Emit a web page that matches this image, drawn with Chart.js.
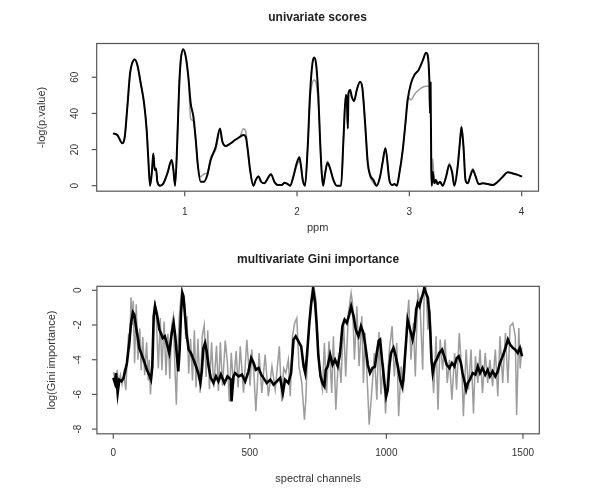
<!DOCTYPE html>
<html>
<head>
<meta charset="utf-8">
<script src="https://cdn.jsdelivr.net/npm/chart.js@4.4.0/dist/chart.umd.min.js"></script>
<style>
  body { margin: 0; background: #fff; }
  canvas { display: block; }
</style>
</head>
<body>
<canvas id="uni" width="600" height="246"></canvas>
<canvas id="gini" width="600" height="258"></canvas>
<script>
// ---- univariate scores (ppm vs -log(p.value)) ----
const topPpm = [0.362,0.40,0.444,0.466,0.489,0.513,0.531,0.555,0.578,0.608,0.638,0.661,0.676,0.691,0.709,0.72,0.733,0.744,0.756,0.78,
  0.81,0.845,0.884,0.899,0.914,0.934,0.949,0.964,0.985,1.009,1.032,1.053,1.077,1.098,1.118,1.142,1.172,1.201,1.231,1.276,
  1.314,1.335,1.365,1.41,1.448,1.492,1.522,1.543,1.561,1.582,1.611,1.632,1.656,1.68,1.709,1.73,1.768,1.798,1.828,1.864,
  1.887,1.917,1.938,1.967,1.997,2.021,2.036,2.051,2.071,2.095,2.116,2.137,2.152,2.169,2.19,2.205,2.22,2.232,2.25,2.271,
  2.294,2.324,2.354,2.392,2.413,2.434,2.443,2.452,2.458,2.473,2.487,2.508,2.532,2.561,2.582,2.606,2.63,2.65,2.68,2.709,
  2.739,2.762,2.787,2.822,2.846,2.867,2.888,2.911,2.941,2.965,2.985,3.015,3.045,3.083,3.119,3.149,3.163,3.178,3.184,3.189,
  3.195,3.2,3.208,3.223,3.237,3.252,3.273,3.297,3.327,3.356,3.38,3.401,3.43,3.452,3.464,3.482,3.5,3.52,3.541,3.565,
  3.589,3.618,3.654,3.698,3.743,3.787,3.832,3.876,3.921,3.966,4.004];
const topBlack = [29.0,28.1,23.5,27.1,43.7,62.2,67.7,69.9,66.8,56.7,45.6,30.8,14.2,0,8.7,17.9,8.7,9.6,2.2,0,
  1.3,6.8,14.2,8.7,0,25.3,53,69.1,75.5,71.4,60.3,45.6,38.2,25.3,10.5,2.2,2.2,5.9,14.2,21.6,
  31.7,24.4,22,23.5,25.3,27.1,28.1,27.1,19.8,8.7,0,3.1,5.3,2.2,1.3,3.1,6.4,2.2,0.4,0.4,
  1.7,0.9,0,5,12.4,15.7,10.5,3.1,0,21.6,51.1,67.7,70.9,67.7,49.3,25.3,6.8,0,6.8,12.7,
  9.6,3.1,0,0,25.3,50.2,48.4,31.7,51.1,53,49.3,46.9,53,57.6,53.9,34.5,12.4,6,3.1,0,
  5,13,20.8,3.1,0.4,0.9,0,6.8,19.7,34.5,47.4,56.7,61.3,64.1,69.2,73.6,72.3,58.5,40,57,
  10.5,0,7.7,1.3,3.1,0.9,2.2,0,5,11.5,7.7,0,10.5,25.3,32.4,21.6,3.1,1.3,5,8.7,
  5.3,0.9,1.3,0.9,0.4,2.2,5,7.4,6.8,6,5];
const topGray = [29.0,28.1,23.5,27.1,43.7,62.2,67.7,69.9,66.8,56.7,45.6,30.8,14.2,0,8.7,17.9,8.7,9.6,2.2,0,
  1.3,6.8,14.2,8.7,0,25.3,53,69.1,75.5,71.4,60.3,37,36,25.3,10.5,5,6.5,7.2,15.5,20,
  30.5,24.4,22,23.5,25.3,27.1,31.5,30,19.8,8.7,0,3.1,5.3,2.2,1.3,3.1,6.4,2.2,0.4,0.4,
  1.7,0.9,0,5,11,14,10.5,3.1,0,21.6,48,57,58.5,57,45,25.3,6.8,0,6.8,13.5,
  9.6,3.1,0,0,25.3,50.2,48.4,31.7,51.1,53,49.3,46.9,53,57.6,53.9,34.5,12.4,5,1.5,0,
  5,13,20.8,3.1,0.4,0.9,0,6.8,19.7,34.5,49,47.5,50.5,53,54.5,55,55,55,40,40,
  10.5,0,15,1.3,3.1,0.9,2.2,0,5,12.5,7.7,0,10.5,25.3,33,21.6,3.1,1.3,5,9.5,
  5.3,0.9,1.3,0.9,0.4,2.2,5,7.4,6.8,6,5];
const topXTicks = [1, 2, 3, 4];
const topYTicks = [0, 20, 40, 60];

// ---- multivariate Gini importance (channel vs log importance) ----
const botChan = [0,6,10,16,22,30,38,43,50,59,65,72,77,83,89,95,104,113,123,131,
  138,143,148,153,160,169,174,181,189,197,205,214,221,227,233,238,243,248,253,257,
  262,268,276,284,294,303,311,319,324,330,336,342,349,357,367,376,385,394,407,418,
  431,433,440,446,459,471,483,495,505,514,522,532,542,554,562,575,587,599,611,621,
  629,641,651,660,668,678,688,697,703,709,718,725,732,739,745,751,759,766,773,778,
  785,794,803,812,822,830,839,847,855,864,871,880,888,898,907,916,925,932,940,949,
  958,965,972,977,984,993,999,1005,1011,1017,1026,1033,1042,1050,1058,1062,1070,1078,1084,1090,
  1096,1103,1109,1115,1121,1127,1133,1139,1145,1152,1157,1161,1165,1170,1177,1184,1194,1204,1212,1221,
  1231,1240,1249,1258,1265,1273,1279,1286,1292,1298,1306,1316,1326,1335,1343,1352,1362,1371,1379,1389,
  1399,1408,1416,1426,1436,1445,1453,1463,1472,1481,1489,1497];
const botBlack = [-5.05,-5.34,-4.77,-5.92,-5.15,-5.25,-5.05,-4.67,-4.19,-2.94,-1.88,-1.27,-1.4,-2.07,-2.65,-3.32,-3.71,-4.1,-4.58,-4.86,
  -5.15,-4.38,-1.5,-0.92,-1.4,-2.27,-2.46,-2.75,-2.65,-3.13,-3.61,-2.46,-1.88,-2.65,-3.8,-4.67,-3.42,-1.31,-0.16,-0.35,
  -1.31,-2.46,-3.42,-3.61,-4.0,-4.38,-4.77,-5.34,-4.67,-3.32,-3.04,-3.52,-4.38,-5.05,-5.34,-4.96,-5.25,-4.86,-5.34,-4.96,
  -5.15,-6.4,-4.96,-4.77,-4.96,-4.86,-5.25,-4.67,-3.9,-4.19,-4.58,-4.48,-4.86,-5.15,-5.34,-5.15,-5.44,-5.25,-5.05,-5.92,
  -5.15,-5.34,-4.77,-2.84,-2.65,-2.94,-3.23,-4.38,-4.77,-3.8,-1.88,-0.73,0.04,-0.73,-2.07,-3.8,-4.96,-5.34,-5.53,-4.58,
  -4.38,-3.71,-4.29,-4.0,-4.38,-3.71,-2.07,-1.69,-1.88,-1.4,-0.92,-1.5,-2.27,-2.65,-2.07,-2.46,-3.42,-4.29,-4.77,-4.48,
  -4.4,-3.6,-2.9,-2.84,-4.0,-5.34,-6.11,-5.73,-4.38,-3.61,-3.32,-3.71,-4.38,-5.15,-5.53,-5.15,-3.42,-1.69,-2.07,-2.46,
  -2.84,-2.27,-1.12,-0.73,-0.92,-0.54,-0.25,0.13,-0.16,-0.44,-1.31,-2.46,-4.0,-4.77,-4.19,-4.0,-3.61,-3.42,-3.8,-4.29,
  -4.48,-4.19,-4.38,-3.9,-3.8,-4.19,-4.77,-5.25,-5.73,-5.34,-5.15,-4.77,-4.86,-4.38,-4.77,-4.48,-4.86,-4.58,-4.96,-4.67,
  -4.96,-4.67,-4.19,-3.8,-3.32,-2.84,-3.13,-3.32,-3.42,-3.61,-3.32,-3.8];
const grayChan = [2,8,14,20,26,32,38,46,52,56,60,65,70,73,78,84,90,97,102,108,
  115,122,128,132,136,142,148,153,158,165,172,178,186,193,200,207,214,220,225,231,
  236,242,247,251,256,261,265,270,276,283,290,297,303,310,318,326,333,340,346,352,
  360,368,378,385,392,400,410,418,425,432,440,450,457,465,477,489,501,507,515,522,
  534,544,556,568,581,593,608,617,624,632,641,648,656,664,672,680,690,700,705,712,
  721,729,734,742,749,756,766,773,781,790,800,806,815,825,834,843,851,861,871,876,
  883,892,900,910,916,922,932,937,947,956,965,973,980,989,997,1004,1011,1021,1029,1038,
  1045,1054,1060,1066,1074,1082,1090,1099,1106,1115,1123,1133,1139,1145,1152,1160,1167,1173,1182,1189,
  1197,1206,1215,1223,1231,1240,1250,1257,1267,1277,1282,1292,1301,1310,1319,1326,1335,1343,1352,1362,
  1371,1379,1389,1399,1408,1416,1426,1436,1445,1453,1463,1472,1477,1485,1490,1496];
const grayVals = [-4.7,-5.6,-4.6,-5.5,-4.9,-5.4,-4.8,-5.75,-3.6,-2.5,-3.4,-0.4,-2.0,-0.6,-4.2,-0.8,-4.0,-2.2,-4.6,-2.7,
  -4.9,-3.0,-5.2,-4.0,-6.0,-4.4,-1.2,-0.6,-1.8,-4.5,-1.6,-4.6,-1.8,-4.9,-2.5,-5.1,-2.0,-1.5,-4.2,-6.6,
  -3.5,-1.5,-0.5,0.15,-0.4,-0.8,-2.8,-1.5,-4.8,-2.8,-5.2,-2.3,-5.6,-2.8,-5.9,-2.6,-2.0,-5.0,-2.3,-5.7,
  -3.0,-5.6,-3.2,-5.8,-3.0,-5.5,-2.9,-4.2,-6.4,-3.6,-5.4,-3.5,-5.6,-3.23,-5.9,-2.85,-5.5,-3.42,-4.8,-6.97,
  -3.61,-5.92,-3.71,-6.1,-4.38,-5.73,-3.23,-6.4,-4.5,-4.77,-4.0,-6.1,-2.65,-1.9,-1.6,-4.4,-5.3,-7.46,-6.3,-3.4,
  -1.12,0.23,0.32,-0.54,-3.04,-4.77,-5.73,-3.04,-5.92,-2.94,-5.92,-2.65,-6.88,-3.61,-5.34,-1.69,-4.96,-1.31,-0.16,-0.73,
  -4.0,-0.92,-4.38,-1.5,-5.34,-2.46,-5.92,-7.75,-5.73,-3.61,-6.3,-2.4,-6.0,-4.2,-7.1,-5.0,-3.42,-2.07,-4.96,-3.04,
  -7.26,-4.38,-5.9,-4.96,-2.07,-0.54,-4.0,-1.88,-4.96,-0.16,-0.73,-4.58,0.32,0.23,-2.27,-1.12,-4.38,-5.92,-2.65,-6.88,
  -2.84,-4.58,-2.84,-5.34,-4.0,-6.3,-3.61,-5.73,-2.46,-4.96,-7.26,-3.42,-5.73,-3.42,-7.1,-3.8,-5.34,-3.42,-5.92,-3.61,
  -5.34,-4.0,-5.53,-3.42,-6.1,-2.65,-5.34,-2.46,-5.34,-2.07,-1.88,-2.65,-7.2,-2.17,-4.5,-3.3];
const botXTicks = [0, 500, 1000, 1500];
const botYTicks = [0, -2, -4, -6, -8];

const FONT = '"Liberation Sans", Arial, Helvetica, sans-serif';

// R-style frame: box, outward ticks, rotated y labels, titles
const rAxes = {
  id: 'rAxes',
  afterDraw(chart, args, o) {
    const ctx = chart.ctx;
    const a = chart.chartArea;
    const x = chart.scales.x, y = chart.scales.y;
    ctx.save();
    ctx.strokeStyle = '#555';
    ctx.lineWidth = 1.2;
    ctx.strokeRect(a.left, a.top, a.right - a.left, a.bottom - a.top);

    ctx.fillStyle = '#333';
    ctx.font = '10px ' + FONT;
    ctx.textAlign = 'center';
    ctx.textBaseline = 'middle';
    o.xTicks.forEach(v => {
      const px = x.getPixelForValue(v);
      ctx.beginPath();
      ctx.moveTo(px, a.bottom);
      ctx.lineTo(px, a.bottom + 5);
      ctx.stroke();
      ctx.fillText(String(v), px, o.xLabelY);
    });
    o.yTicks.forEach(v => {
      const py = y.getPixelForValue(v);
      ctx.beginPath();
      ctx.moveTo(a.left - 5, py);
      ctx.lineTo(a.left, py);
      ctx.stroke();
      ctx.save();
      ctx.translate(o.yLabelX, py);
      ctx.rotate(-Math.PI / 2);
      ctx.fillText(String(v), 0, 0);
      ctx.restore();
    });

    const cx = (a.left + a.right) / 2;
    ctx.font = 'bold 12px ' + FONT;
    ctx.fillStyle = '#222';
    ctx.fillText(o.title, cx, o.titleY);

    ctx.font = '11px ' + FONT;
    ctx.fillStyle = '#333';
    ctx.fillText(o.xTitle, cx, o.xTitleY);
    ctx.save();
    ctx.translate(o.yTitleX, (a.top + a.bottom) / 2);
    ctx.rotate(-Math.PI / 2);
    ctx.fillText(o.yTitle, 0, 0);
    ctx.restore();
    ctx.restore();
  }
};

function pairs(xs, ys) {
  return xs.map((v, i) => ({ x: v, y: ys[i] }));
}

function makePlot(id, c) {
  return new Chart(document.getElementById(id), {
    type: 'line',
    data: {
      datasets: [
        { data: pairs(c.x, c.black), borderColor: '#000', borderWidth: c.bw,
          pointRadius: 0, cubicInterpolationMode: c.interp, tension: c.tension, order: 1 },
        { data: pairs(c.gx, c.gray), borderColor: '#9c9c9c', borderWidth: 1.5,
          pointRadius: 0, cubicInterpolationMode: c.interp, tension: c.tension, order: 2 }
      ]
    },
    options: {
      responsive: false,
      animation: false,
      layout: { padding: c.pad },
      plugins: {
        legend: { display: false },
        tooltip: { enabled: false },
        rAxes: c.axes
      },
      scales: {
        x: { type: 'linear', display: false, min: c.xmin, max: c.xmax },
        y: { type: 'linear', display: false, min: c.ymin, max: c.ymax }
      }
    },
    plugins: [rAxes]
  });
}

makePlot('uni', {
  x: topPpm, black: topBlack, gx: topPpm, gray: topGray,
  bw: 2, interp: 'monotone', tension: 0.4,
  xmin: 0.216, xmax: 4.15, ymin: -3.03, ymax: 78.7,
  pad: { left: 96.7, right: 61.5, top: 43.5, bottom: 54.8 },
  axes: {
    xTicks: topXTicks, yTicks: topYTicks,
    xLabelY: 212, yLabelX: 75.5,
    title: 'univariate scores', titleY: 17.7,
    xTitle: 'ppm', xTitleY: 228.3,
    yTitle: '-log(p.value)', yTitleX: 42
  }
});

makePlot('gini', {
  x: botChan, black: botBlack, gx: grayChan, gray: grayVals,
  bw: 2.6, interp: 'default', tension: 0,
  xmin: -60, xmax: 1560, ymin: -8.27, ymax: 0.23,
  pad: { left: 96.9, right: 60.7, top: 40.3, bottom: 70.2 },
  axes: {
    xTicks: botXTicks, yTicks: botYTicks,
    xLabelY: 207.3, yLabelX: 78,
    title: 'multivariate Gini importance', titleY: 14,
    xTitle: 'spectral channels', xTitleY: 233.3,
    yTitle: 'log(Gini importance)', yTitleX: 52
  }
});
</script>
</body>
</html>
